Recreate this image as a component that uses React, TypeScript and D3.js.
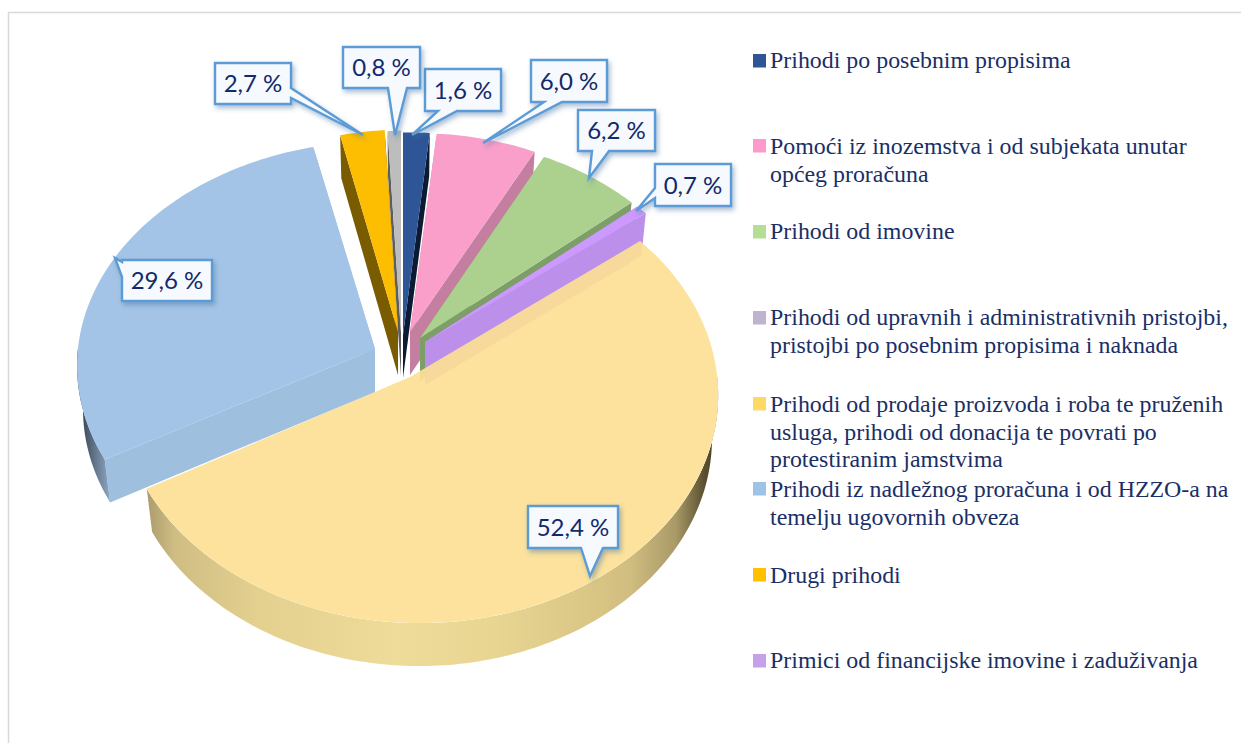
import React from "react";
import * as d3 from "d3";

// ---------- data ----------
const pieCategories = ["navy", "pink", "green", "purple", "yellow", "blue", "gold", "gray"];
const pieValues = [1.6, 6.0, 6.2, 0.7, 52.4, 29.6, 2.7, 0.8];
const valueLabels = ["1,6 %", "6,0 %", "6,2 %", "0,7 %", "52,4 %", "29,6 %", "2,7 %", "0,8 %"];

const legendLabels = [
  ["Prihodi po posebnim propisima"],
  ["Pomoći iz inozemstva i od subjekata unutar", "općeg proračuna"],
  ["Prihodi od imovine"],
  ["Prihodi od upravnih i administrativnih pristojbi,", "pristojbi po posebnim propisima i naknada"],
  ["Prihodi od prodaje proizvoda i roba te pruženih", "usluga, prihodi od donacija te povrati po", "protestiranim jamstvima"],
  ["Prihodi iz nadležnog proračuna i od HZZO-a na", "temelju ugovornih obveza"],
  ["Drugi prihodi"],
  ["Primici od financijske imovine i zaduživanja"],
];
const legendColors = ["#2f5597", "#ff99cc", "#b6dd94", "#bfb3cf", "#ffd966", "#9dc3e6", "#ffc000", "#c6a0e8"];

// ---------- layout & style ----------
const WIDTH = 1241;
const HEIGHT = 743;
const TILT = 0.077;
const SKEW = -0.03;
const DEPTH = 43;
const RIM_SHRINK = 0.98;

const sliceApexX = [403, 410, 420, 425, 410, 375, 398, 401];
const sliceApexY = [335, 332, 338, 342, 377, 349, 332, 333];
const sliceRx = [286, 286, 285, 286, 298, 306, 287, 287];
const sliceRy = [218, 214, 215, 215, 227, 224, 218, 218];
const topColors = ["#2e5596", "#f99fca", "#acd08e", "#cc99ff", "#fce095", "#a3c4e6", "#fdbd00", "#bdbdbd"];
const cutColors = ["#0c1a33", "#c47ea0", "#7d9e68", "#bc90ea", "#d8c584", "#9fbfdf", "#7a5c00", "#5e5e5e"];
const drawOrder = [7, 6, 0, 1, 2, 3, 4, 5];

// callout boxes: left, top, right, bottom, tip x, tip y, tail side, tail base start, tail base end
const boxLeft = [425, 531, 578, 655, 528, 122, 215, 343];
const boxTop = [69, 60, 110, 164, 506, 260, 63, 47];
const boxRight = [501, 607, 655, 731, 618, 212, 291, 420];
const boxBottom = [111, 102, 151, 206, 548, 301, 104, 88];
const tipX = [412, 483, 589, 636, 590, 115, 363, 395];
const tipY = [135, 143, 178, 211, 576, 258, 135, 135];
const tailSide = ["b", "b", "b", "l", "b", "l", "r", "b"];
const tailA = [438, 544, 592, 188, 581, 262, 88, 388];
const tailB = [457, 562, 609, 198, 603, 277, 98, 407];

const legendSwatchTop = [54, 139, 225, 311, 397, 482, 568, 654];
const legendFirstBaseline = [68, 154, 239, 325, 412, 497, 583, 668];
const LEGEND_LINE = 27.7;

const arcs = d3.pie<number>().sort(null).startAngle(0).endAngle(2 * Math.PI)(pieValues);
const yellowIdx = pieCategories.indexOf("yellow");

const pt = (i: number, a: number, sx = 1, dy = 0): [number, number] => {
  const den = 1 + TILT * Math.cos(a) + SKEW * Math.sin(a);
  return [
    sliceApexX[i] + (sliceRx[i] * sx * Math.sin(a)) / den,
    sliceApexY[i] - (sliceRy[i] * Math.cos(a)) / den + dy,
  ];
};
const sweep = (a0: number, a1: number) => {
  const n = Math.max(2, Math.ceil(((a1 - a0) * 180) / Math.PI));
  return d3.range(n + 1).map((k) => a0 + ((a1 - a0) * k) / n);
};
const line = d3.line<[number, number]>();
const closed = (pts: [number, number][]) => line(pts) + "Z";

const topPath = (i: number, a0: number, a1: number) =>
  closed([[sliceApexX[i], sliceApexY[i]], ...sweep(a0, a1).map((a) => pt(i, a))]);

const cutPath = (i: number, a: number) =>
  closed([
    [sliceApexX[i], sliceApexY[i]],
    pt(i, a),
    pt(i, a, RIM_SHRINK, DEPTH),
    [sliceApexX[i], sliceApexY[i] + DEPTH],
  ]);

const rimPath = (i: number, a0: number, a1: number) => {
  const s = Math.max(a0, Math.PI / 2);
  const e = Math.min(a1, 1.5 * Math.PI);
  if (e <= s) return null;
  const ang = sweep(s, e);
  return closed([...ang.map((a) => pt(i, a)), ...ang.slice().reverse().map((a) => pt(i, a, RIM_SHRINK, DEPTH))]);
};

const calloutPath = (i: number) => {
  const [l, t, r, b] = [boxLeft[i], boxTop[i], boxRight[i], boxBottom[i]];
  const tip: [number, number] = [tipX[i], tipY[i]];
  const A = tailA[i];
  const B = tailB[i];
  const pts: [number, number][] = [[l, t]];
  if (tailSide[i] === "r") pts.push([r, t], [r, A], tip, [r, B], [r, b], [l, b]);
  else if (tailSide[i] === "b") pts.push([r, t], [r, b], [B, b], tip, [A, b], [l, b]);
  else pts.push([r, t], [r, b], [l, b], [l, B], tip, [l, A]);
  return closed(pts);
};

const yellowRimStops: [number, string][] = [
  [0, "#a39468"], [0.06, "#cfbd83"], [0.2, "#e3d08f"], [0.45, "#efdb9a"], [0.62, "#e8d592"],
  [0.8, "#d8c584"], [0.85, "#d0bd80"], [0.93, "#a99a68"], [0.98, "#5a5030"], [1, "#4a4228"],
];
const blueRimStops: [number, string][] = [[0, "#2d3848"], [0.45, "#5f7085"], [1, "#93aecb"]];

export default function App() {
  const yArc = arcs[yellowIdx];
  return (
    <svg
      width={WIDTH}
      height={HEIGHT}
      viewBox={`0 0 ${WIDTH} ${HEIGHT}`}
      style={{ position: "fixed", left: 0, top: 0, display: "block", background: "#fff" }}
    >
      <defs>
        <linearGradient id="rim4" gradientUnits="userSpaceOnUse" x1={140} x2={716} y1={0} y2={0}>
          {yellowRimStops.map(([o, c]) => <stop key={o} offset={o} stopColor={c} />)}
        </linearGradient>
        <linearGradient id="rim5" gradientUnits="userSpaceOnUse" x1={78} x2={112} y1={0} y2={0}>
          {blueRimStops.map(([o, c]) => <stop key={o} offset={o} stopColor={c} />)}
        </linearGradient>
        <filter id="shadow" x="-30%" y="-30%" width="170%" height="170%">
          <feDropShadow dx={2} dy={3} stdDeviation={2.5} floodColor="#3f6f9f" floodOpacity={0.45} />
        </filter>
      </defs>

      <path d={`M8.5 743V12.5H${WIDTH}`} fill="none" stroke="#d9d9d9" strokeWidth={1.5} />

      {/* the large slice's rim goes first, masked so it cannot show through its translucent top */}
      <path d={rimPath(yellowIdx, yArc.startAngle, yArc.endAngle) ?? ""} fill="url(#rim4)" />
      <path d={topPath(yellowIdx, yArc.startAngle, yArc.endAngle)} fill="#fff" />

      {drawOrder.map((i) => {
        const { startAngle: a0, endAngle: a1 } = arcs[i];
        const isYellow = i === yellowIdx;
        const rim = isYellow ? null : rimPath(i, a0, a1);
        return (
          <g key={pieCategories[i]}>
            {!isYellow && <path d={cutPath(i, a0)} fill={cutColors[i]} />}
            {!isYellow && <path d={cutPath(i, a1)} fill={cutColors[i]} />}
            {rim && <path d={rim} fill={`url(#rim${i})`} />}
            <path d={topPath(i, a0, a1)} fill={topColors[i]} fillOpacity={isYellow ? 0.93 : 1} />
          </g>
        );
      })}

      {valueLabels.map((t, i) => (
        <g key={t}>
          <path
            d={calloutPath(i)}
            fill="#f6f9fd"
            stroke="#5b9bd5"
            strokeWidth={2.4}
            strokeLinejoin="miter"
            filter="url(#shadow)"
          />
          <text
            x={(boxLeft[i] + boxRight[i]) / 2}
            y={(boxTop[i] + boxBottom[i]) / 2 + 8.5}
            textAnchor="middle"
            fontFamily="Lato, sans-serif"
            fontSize={24}
            fill="#12296b"
          >
            {t}
          </text>
        </g>
      ))}

      {legendLabels.map((lines, i) => (
        <g key={lines[0]}>
          <rect x={753} y={legendSwatchTop[i]} width={13} height={13.5} fill={legendColors[i]} />
          {lines.map((ln, j) => (
            <text
              key={ln}
              x={770}
              y={legendFirstBaseline[i] + j * LEGEND_LINE}
              fontFamily="'Liberation Serif', serif"
              fontSize={23.9}
              fill="#1a2f66"
            >
              {ln}
            </text>
          ))}
        </g>
      ))}
    </svg>
  );
}
